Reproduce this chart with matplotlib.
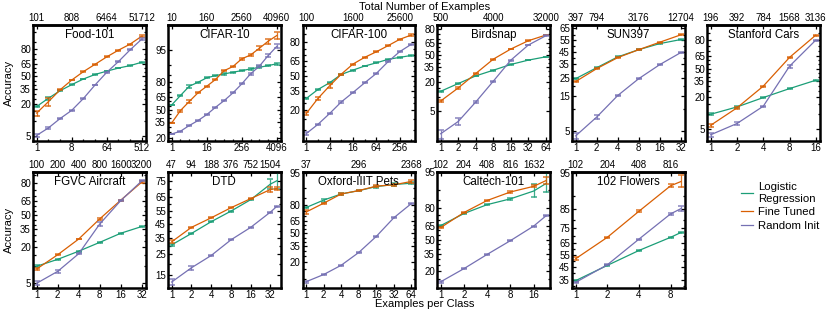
import numpy as np
import matplotlib
matplotlib.use("Agg")
import matplotlib.pyplot as plt
from matplotlib.ticker import NullFormatter, NullLocator
from matplotlib.lines import Line2D

plt.rcParams['font.family'] = ['Liberation Sans', 'DejaVu Sans']

#### data (accuracy in %)
names = ['Food-101', 'CIFAR-10', 'CIFAR-100', 'Birdsnap', 'SUN397', 'Stanford Cars',
         'FGVC Aircraft', 'DTD', 'Oxford-IIIT Pets', 'Caltech-101', '102 Flowers']
n_classes = [101, 10, 100, 500, 397, 196, 100, 47, 37, 102, 102]

shots = [
    [1, 2, 4, 8, 16, 32, 64, 128, 256, 512],
    [1, 2, 4, 8, 16, 32, 64, 128, 256, 512, 1024, 2048, 4096],
    [1, 2, 4, 8, 16, 32, 64, 128, 256, 512],
    [1, 2, 4, 8, 16, 32, 64],
    [1, 2, 4, 8, 16, 32],
    [1, 2, 4, 8, 16],
    [1, 2, 4, 8, 16, 32],
    [1, 2, 4, 8, 16, 32, 40],
    [1, 2, 4, 8, 16, 32, 64],
    [1, 2, 4, 8, 16, 23],
    [1, 2, 4, 8, 10],
]

logreg = [
    [18.4, 25.3, 33.0, 40.0, 46.9, 52.5, 56.6, 60.3, 63.2, 67.0],
    [55.7, 66.7, 76.0, 79.4, 82.8, 84.3, 85.4, 86.4, 87.3, 88.2, 89.0, 89.8, 90.6],
    [28.7, 36.7, 43.3, 51.7, 56.1, 60.1, 63.2, 66.4, 68.2, 69.9],
    [13.1, 18.4, 25.2, 31.2, 38.0, 43.5, 47.8],
    [24.4, 32.1, 40.8, 47.0, 52.3, 55.8],
    [9.7, 13.3, 19.5, 27.3, 36.1],
    [9.9, 12.9, 17.4, 23.6, 31.4, 38.0],
    [30.5, 38.2, 46.8, 54.7, 63.0, 73.1, 75.0],
    [77.9, 83.5, 87.2, 88.9, 90.7, 91.5, 92.0],
    [65.0, 75.9, 82.3, 85.7, 89.4, 92.1],
    [34.3, 46.5, 58.9, 69.0, 72.3],
]
finetune = [
    [14.0, 22.2, 34.0, 45.6, 56.0, 64.7, 72.6, 78.7, 83.3, 88.1],
    [34.0, 48.8, 59.8, 69.6, 76.0, 81.6, 87.3, 89.4, 92.5, 93.7, 95.4, 96.7, 97.5],
    [17.9, 28.7, 40.2, 52.0, 62.0, 68.2, 72.9, 77.5, 81.7, 84.2],
    [8.3, 15.2, 27.6, 44.7, 57.9, 68.0, 74.1],
    [22.6, 31.4, 40.2, 47.0, 53.5, 59.8],
    [5.9, 12.8, 29.7, 63.2, 83.6],
    [8.9, 15.3, 26.3, 46.0, 65.7, 80.7],
    [32.5, 42.6, 49.7, 57.2, 63.7, 69.8, 70.4],
    [73.9, 81.3, 87.2, 88.9, 90.9, 91.4, 92.6],
    [63.0, 76.7, 84.8, 89.0, 91.2, 93.0],
    [52.1, 69.0, 84.2, 92.6, 93.5],
]
randinit = [
    [5.1, 7.2, 11.0, 15.7, 25.1, 39.7, 55.2, 67.7, 79.0, 86.5],
    [23.0, 25.5, 31.2, 36.7, 43.8, 52.8, 61.0, 69.6, 78.1, 85.4, 89.5, 93.5, 95.8],
    [8.8, 12.3, 17.9, 25.9, 33.9, 43.2, 52.7, 64.2, 73.0, 78.5],
    [1.6, 3.0, 7.9, 20.3, 43.4, 62.9, 73.4],
    [4.2, 7.8, 15.2, 24.4, 34.5, 44.5],
    [3.8, 6.4, 13.7, 52.8, 80.0],
    [5.0, 8.1, 15.9, 40.6, 65.3, 81.5],
    [12.6, 18.1, 24.2, 33.8, 42.6, 54.0, 58.2],
    [8.7, 11.9, 17.5, 28.3, 46.3, 68.1, 81.0],
    [13.7, 22.0, 34.5, 49.0, 64.5, 73.9],
    [33.0, 47.0, 67.7, 83.0, 85.3],
]

# error bar half widths (%), only the visible ones, rest default
err_default = 0.4
logreg_err = {0: {1: 1.5}, 1: {2: 1.5}, 7: {5: 3.0, 6: 5.0}, 8: {1: 1.0}, 9: {4: 2.5, 5: 3.0}}
finetune_err = {0: {0: 1.5, 1: 3.5}, 1: {1: 1.2, 2: 1.5}, 2: {0: 1.0, 1: 1.5, 2: 2.0},
                6: {3: 1.2}, 7: {0: 1.0, 5: 1.5, 6: 1.0}, 8: {0: 2.0}, 9: {5: 1.0}, 10: {0: 1.0, 4: 1.2}}
randinit_err = {3: {0: 0.35, 1: 0.5}, 5: {3: 2.0}, 6: {3: 2.5}, 7: {0: 1.0, 1: 1.0}, 10: {4: 1.2}}

bottom_ticks = [[1, 8, 64, 512], [1, 16, 256, 4096], [1, 4, 16, 64, 256], [1, 2, 4, 8, 16, 32, 64],
                [1, 2, 4, 8, 16, 32], [1, 2, 4, 8, 16], [1, 2, 4, 8, 16, 32], [1, 2, 4, 8, 16, 32],
                [1, 2, 4, 8, 16, 32, 64], [1, 2, 4, 8, 16], [1, 2, 4, 8]]
top_ticks = [[1, 8, 64, 512], [1, 16, 256, 4096], [1, 16, 256], [1, 8, 64], [1, 2, 8, 32],
             [1, 2, 4, 8, 16], [1, 2, 4, 8, 16, 32], [1, 2, 4, 8, 16, 32], [1, 8, 64],
             [1, 2, 4, 8, 16], [1, 2, 4, 8]]
y_ticks = [[5, 20, 35, 50, 65, 80], [20, 35, 50, 65, 80, 95], [20, 35, 50, 65, 80],
           [5, 20, 35, 50, 65, 80], [5, 15, 25, 35, 45, 55, 65], [5, 20, 35, 50, 65, 80],
           [5, 20, 35, 50, 65, 80], [15, 25, 35, 45, 55, 65, 75], [20, 35, 50, 65, 80, 95],
           [20, 35, 50, 65, 80, 95], [35, 45, 55, 65, 75, 85, 95]]
y_lims = [(4.0, 92.8), (17.8, 98.5), (6.8, 88.9), (1.13, 82.9), (3.6, 67.7), (2.9, 89.3),
          (4.2, 86.6), (10.9, 79.6), (6.7, 95.2), (11.0, 95.1), (29.3, 95.2)]

colors = {'lr': '#1b9e77', 'ft': '#d95f02', 'ri': '#7570b3'}

#### layout (pixels of the 830x312 image)
W, H = 830., 312.
col_left = [33, 168, 302.5, 437, 572, 707]
ax_w = 112.5
row_top = [25, 172]
ax_h = 115.5
tick_fs = 7.0

fig = plt.figure(figsize=(8.3, 3.12), dpi=100)


def errs(table, i, n):
    e = [err_default] * n
    for k, v in table.get(i, {}).items():
        e[k] = v
    return np.array(e)


def draw(ax, i):
    x = np.array(shots[i], dtype=float)
    for key, vals, table in [('lr', logreg, logreg_err), ('ft', finetune, finetune_err),
                             ('ri', randinit, randinit_err)]:
        y = np.array(vals[i]) / 100.
        e = errs(table, i, len(x)) / 100.
        ax.plot(x, y, color=colors[key], lw=0.9)
        ax.errorbar(x, y, yerr=e, color=colors[key], lw=0, elinewidth=0.9,
                    capsize=2.0, capthick=1.1, alpha=0.85)
    ax.set_xscale('log', base=2)
    ax.set_yscale('logit')
    lo, hi = np.log2(x[0]), np.log2(x[-1])
    pad = 0.035 * (hi - lo)
    ax.set_xlim(2 ** (lo - pad), 2 ** (hi + pad))
    ax.set_ylim(y_lims[i][0] / 100., y_lims[i][1] / 100.)
    ax.set_xticks(bottom_ticks[i], labels=[str(t) for t in bottom_ticks[i]])
    minor_x = [2 ** k for k in range(int(hi) + 1) if 2 ** k not in bottom_ticks[i]]
    ax.set_xticks(minor_x, minor=True)
    ax.xaxis.set_minor_formatter(NullFormatter())
    yt = y_ticks[i]
    ax.set_yticks([v / 100. for v in yt], labels=[str(v) for v in yt])
    minor_y = [v / 100. for v in range(5, 100, 5)
               if v not in yt and y_lims[i][0] < v < y_lims[i][1]]
    ax.set_yticks(minor_y, minor=True)
    ax.yaxis.set_minor_formatter(NullFormatter())
    ax.tick_params(which='both', direction='in', top=False, right=True, labelsize=tick_fs,
                   width=0.9, pad=1.5)
    ax.tick_params(which='major', length=3)
    ax.tick_params(which='minor', length=1.8)
    for s in ax.spines.values():
        s.set_linewidth(1.8)
    sec = ax.secondary_xaxis('top')
    sec.set_xticks(top_ticks[i], labels=[str(t * n_classes[i]) for t in top_ticks[i]])
    sec.xaxis.set_minor_locator(NullLocator())
    sec.tick_params(direction='in', length=3, width=0.9, labelsize=tick_fs, pad=1.5)
    sec.spines['top'].set_linewidth(1.8)
    ax.text(0.5, 0.965, names[i], transform=ax.transAxes, ha='center', va='top',
            fontsize=8.3)


for i in range(len(names)):
    row = 0 if i < 6 else 1
    col = i if i < 6 else i - 6
    rect = [col_left[col] / W, 1 - (row_top[row] + ax_h) / H, ax_w / W, ax_h / H]
    ax = fig.add_axes(rect)
    draw(ax, i)

fig.text(425 / W, 1 - 7 / H, 'Total Number of Examples', ha='center', va='center', fontsize=8)
fig.text(425 / W, 1 - 304 / H, 'Examples per Class', ha='center', va='center', fontsize=8)
fig.text(9 / W, 1 - 83 / H, 'Accuracy', rotation=90, ha='center', va='center', fontsize=8)
fig.text(9 / W, 1 - 230 / H, 'Accuracy', rotation=90, ha='center', va='center', fontsize=8)

handles = [Line2D([], [], color=colors['lr'], lw=0.9),
           Line2D([], [], color=colors['ft'], lw=0.9),
           Line2D([], [], color=colors['ri'], lw=0.9)]
fig.legend(handles, ['Logistic\nRegression', 'Fine Tuned', 'Random Init'],
           loc='upper left', bbox_to_anchor=(731 / W, 1 - 172 / H), frameon=False,
           fontsize=8.2, handlelength=1.0, handletextpad=0.5, labelspacing=0.3)

fig.savefig('out.png', dpi=100)
